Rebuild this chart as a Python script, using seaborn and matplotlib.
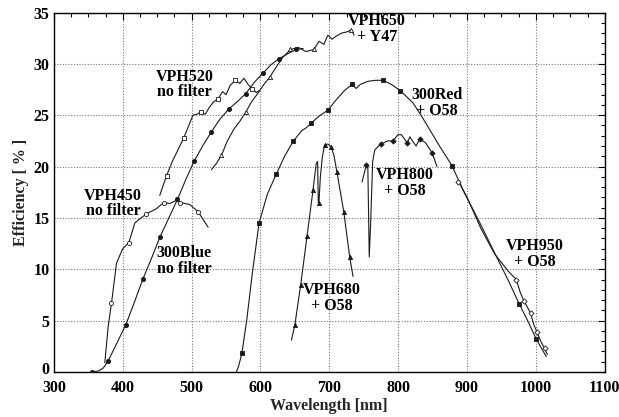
import matplotlib
matplotlib.use("Agg")
import matplotlib.pyplot as plt
from matplotlib.ticker import MultipleLocator
from matplotlib.transforms import ScaledTranslation
import seaborn as sns
import pandas as pd

# ---------------- data ----------------
blue300_wl = [355, 365, 372, 379, 390, 404.5, 417, 429.6, 442, 453.8, 467, 479.5, 492, 503.6, 516,
              528.9, 541, 554, 566, 578.7, 591, 603.8, 615, 627, 640, 652, 662]
blue300_ef = [0.0, 0.1, 0.4, 1.1, 2.6, 4.6, 6.8, 9.1, 11.1, 13.1, 15.0, 16.8, 18.8, 20.5, 22.0,
              23.4, 24.6, 25.6, 26.3, 27.1, 28.2, 29.1, 29.9, 30.5, 31.0, 31.4, 31.5]
blue300_mk_wl = [355, 379, 404.5, 429.6, 453.8, 479.5, 503.6, 528.9, 554, 578.7, 603.8, 627, 652]
blue300_mk_ef = [0.0, 1.1, 4.6, 9.1, 13.1, 16.8, 20.5, 23.4, 25.6, 27.1, 29.1, 30.5, 31.4]

vph450_wl = [374, 379, 383.7, 391, 400, 408.9, 417.6, 424.8, 434.5, 449, 459.7, 468, 478, 483.9, 497.4, 509.5, 524]
vph450_ef = [0.9, 4.5, 6.7, 10.6, 12.0, 12.6, 14.5, 14.9, 15.4, 15.9, 16.5, 16.4, 16.7, 16.5, 16.3, 15.6, 14.1]
vph450_mk_wl = [383.7, 408.9, 434.5, 459.7, 483.9, 509.5]
vph450_mk_ef = [6.7, 12.6, 15.4, 16.5, 16.5, 15.6]

vph520_wl = [453.8, 463.6, 472, 480, 488.7, 496, 502, 508, 513, 520, 526, 532, 538.5, 545, 550,
             556, 563.7, 570, 576, 582, 588, 594, 598]
vph520_ef = [17.2, 19.1, 20.5, 21.6, 22.8, 24.0, 25.0, 25.1, 25.3, 25.1, 25.8, 26.3, 26.6, 27.3, 27.0,
             27.9, 28.4, 28.1, 28.6, 28.0, 27.6, 27.2, 27.4]
vph520_mk_wl = [463.6, 488.7, 513, 538.5, 563.7, 588]
vph520_mk_ef = [19.1, 22.8, 25.3, 26.6, 28.4, 27.6]

vph650_wl = [528.9, 536, 543.4, 552, 561, 570, 578.7, 587, 596, 605, 613.5, 622, 632, 643.5, 655,
             666, 677.7, 685, 692, 698, 704, 710, 718, 725, 732, 736]
vph650_ef = [19.7, 20.3, 21.1, 22.5, 23.6, 24.4, 25.3, 26.3, 27.1, 28.0, 28.7, 29.6, 30.6, 31.4, 31.6,
             31.2, 31.4, 32.2, 31.9, 32.8, 32.4, 32.7, 33.0, 33.1, 33.3, 32.8]
vph650_mk_wl = [543.4, 578.7, 613.5, 643.5, 677.7, 732]
vph650_mk_ef = [21.1, 25.3, 28.7, 31.4, 31.4, 33.3]

red300_wl = [565, 568, 573, 580, 588, 598, 610, 623.2, 635, 648, 660, 667, 673, 685, 698, 710, 722,
             733, 739, 745, 756, 767, 778, 790, 803, 821.5, 835, 845.7, 860, 878, 895, 918, 940, 960,
             976, 988, 1000.5, 1015]
red300_ef = [0.0, 0.5, 1.8, 5.0, 9.5, 14.5, 17.3, 19.3, 21.0, 22.5, 23.5, 23.8, 24.2, 24.9, 25.5, 26.5,
             27.4, 28.0, 27.6, 28.0, 28.3, 28.4, 28.4, 28.0, 27.4, 26.2, 24.8, 23.6, 22.0, 20.1, 17.6,
             14.6, 11.6, 8.9, 6.6, 5.0, 3.2, 1.5]
red300_mk_wl = [573, 598, 623.2, 648, 673, 698, 733, 778, 803, 878, 976, 1000.5]
red300_mk_ef = [1.8, 14.5, 19.3, 22.5, 24.2, 25.5, 28.0, 28.4, 27.4, 20.1, 6.6, 3.2]

vph680_wl = [645, 650, 658.5, 667.6, 676.3, 681, 683, 684, 685, 687, 690, 693.3, 698, 703, 707, 711,
             721, 729.6, 734.4]
vph680_ef = [3.1, 4.6, 8.5, 13.2, 17.7, 20.3, 20.5, 16.5, 16.5, 19.0, 21.0, 22.1, 22.2, 21.9, 21.0,
             19.5, 15.6, 11.2, 9.3]
vph680_mk_wl = [650, 658.5, 667.6, 676.3, 685, 693.3, 703, 711, 721, 729.6]
vph680_mk_ef = [4.6, 8.5, 13.2, 17.7, 16.5, 22.1, 21.9, 19.5, 15.6, 11.2]

vph800_wl = [747.5, 754, 756, 758, 760, 763, 766, 770, 775.5, 785, 792.5, 799.7, 804.6, 810, 813.3,
             817, 821.6, 826, 831.2, 840, 849.6, 856.3]
vph800_ef = [18.5, 20.2, 19.8, 11.2, 14.5, 20.5, 21.6, 21.9, 22.2, 22.5, 22.5, 23.1, 23.1, 22.6, 22.3,
             22.9, 22.4, 22.0, 22.7, 22.3, 21.3, 20.0]
vph800_mk_wl = [754, 775.5, 792.5, 813.3, 831.2, 849.6]
vph800_mk_ef = [20.2, 22.2, 22.5, 22.3, 22.7, 21.3]

vph950_wl = [885.4, 889, 900, 920, 940, 960, 971.6, 977, 982.6, 987, 992.3, 997, 1001.5, 1007, 1012.6, 1016.5]
vph950_ef = [18.5, 18.4, 17.0, 14.0, 11.5, 9.8, 9.0, 7.8, 6.9, 6.4, 5.7, 4.6, 3.9, 3.0, 2.3, 1.7]
vph950_mk_wl = [887, 971.6, 982.6, 992.3, 1001.5, 1012.6]
vph950_mk_ef = [18.45, 9.0, 6.9, 5.7, 3.9, 2.3]

labels = ["VPH650\n+ Y47", "VPH520\nno filter", "300Red\n+ O58", "VPH450\nno filter",
          "300Blue\nno filter", "VPH680\n+ O58", "VPH800\n+ O58", "VPH950\n+ O58"]
label_wl = [769, 490, 856, 386, 489, 703, 809, 998]
label_ef = [33.4, 28.0, 26.2, 16.4, 10.8, 7.2, 18.4, 11.5]

x_ticks = [300, 400, 500, 600, 700, 800, 900, 1000, 1100]
y_ticks = [0, 5, 10, 15, 20, 25, 30, 35]

# ---------------- style ----------------
sns.set_theme(style="white")
plt.rcParams["font.family"] = ["Liberation Serif", "DejaVu Serif"]
plt.rcParams["font.weight"] = "bold"

fig = plt.figure(figsize=(6.19, 4.17), dpi=100)
ax = fig.add_axes([0.087, 0.108, 0.890, 0.862])

LC = "#1a1a1a"
series = [
    (blue300_wl, blue300_ef, blue300_mk_wl, blue300_mk_ef, "o", LC),
    (vph450_wl, vph450_ef, vph450_mk_wl, vph450_mk_ef, "o", "white"),
    (vph520_wl, vph520_ef, vph520_mk_wl, vph520_mk_ef, "s", "white"),
    (vph650_wl, vph650_ef, vph650_mk_wl, vph650_mk_ef, "^", "white"),
    (red300_wl, red300_ef, red300_mk_wl, red300_mk_ef, "s", LC),
    (vph680_wl, vph680_ef, vph680_mk_wl, vph680_mk_ef, "^", LC),
    (vph800_wl, vph800_ef, vph800_mk_wl, vph800_mk_ef, "D", LC),
    (vph950_wl, vph950_ef, vph950_mk_wl, vph950_mk_ef, "D", "white"),
]

for wl, ef, mwl, mef, mk, fc in series:
    df = pd.DataFrame({"wl": wl, "ef": ef})
    sns.lineplot(data=df, x="wl", y="ef", ax=ax, sort=False, estimator=None,
                 color=LC, linewidth=0.8, zorder=3)
    dm = pd.DataFrame({"wl": mwl, "ef": mef})
    size = 9 if mk != "D" else 7
    sns.scatterplot(data=dm, x="wl", y="ef", ax=ax, marker=mk, s=size,
                    facecolor=fc, edgecolor=LC, linewidth=0.6, zorder=4)

for t, xw, ye in zip(labels, label_wl, label_ef):
    ax.text(xw, ye, t, ha="center", va="center", fontsize=11.5, fontweight="bold",
            linespacing=0.95, color="black", zorder=5)

ax.set_xlim(300, 1100)
ax.set_ylim(0, 35)
ax.set_xticks(x_ticks)
ax.set_yticks(y_ticks)
ax.xaxis.set_minor_locator(MultipleLocator(25))
ax.yaxis.set_minor_locator(MultipleLocator(1))
ax.tick_params(which="both", direction="in", top=True, right=True, colors="black",
               labelsize=11.5)
ax.tick_params(axis="x", pad=6)
ax.tick_params(axis="y", pad=3)
ax.tick_params(which="major", length=5, width=0.8)
ax.tick_params(which="minor", length=3, width=0.8)
for lab in ax.get_xticklabels() + ax.get_yticklabels():
    lab.set_fontweight("bold")
for lab in ax.get_yticklabels():
    lab.set_verticalalignment("center_baseline")

# lift the "0" label a little so it does not collide with the "300" label
first_tick = ax.yaxis.get_major_ticks()[0]
first_tick.label1.set_transform(first_tick.label1.get_transform()
                                + ScaledTranslation(0, 2.5 / 72, fig.dpi_scale_trans))

ax.grid(True, which="major", color="#777777", linestyle=(0, (1, 1.5)), linewidth=0.8)
for s in ax.spines.values():
    s.set_color("black")
    s.set_linewidth(1.0)

ax.set_xlabel("Wavelength [nm]", fontsize=11.5, fontweight="bold", labelpad=1)
ax.set_ylabel("Efficiency [ % ]", fontsize=11.5, fontweight="bold", labelpad=3)

fig.savefig("out.png", dpi=100)
